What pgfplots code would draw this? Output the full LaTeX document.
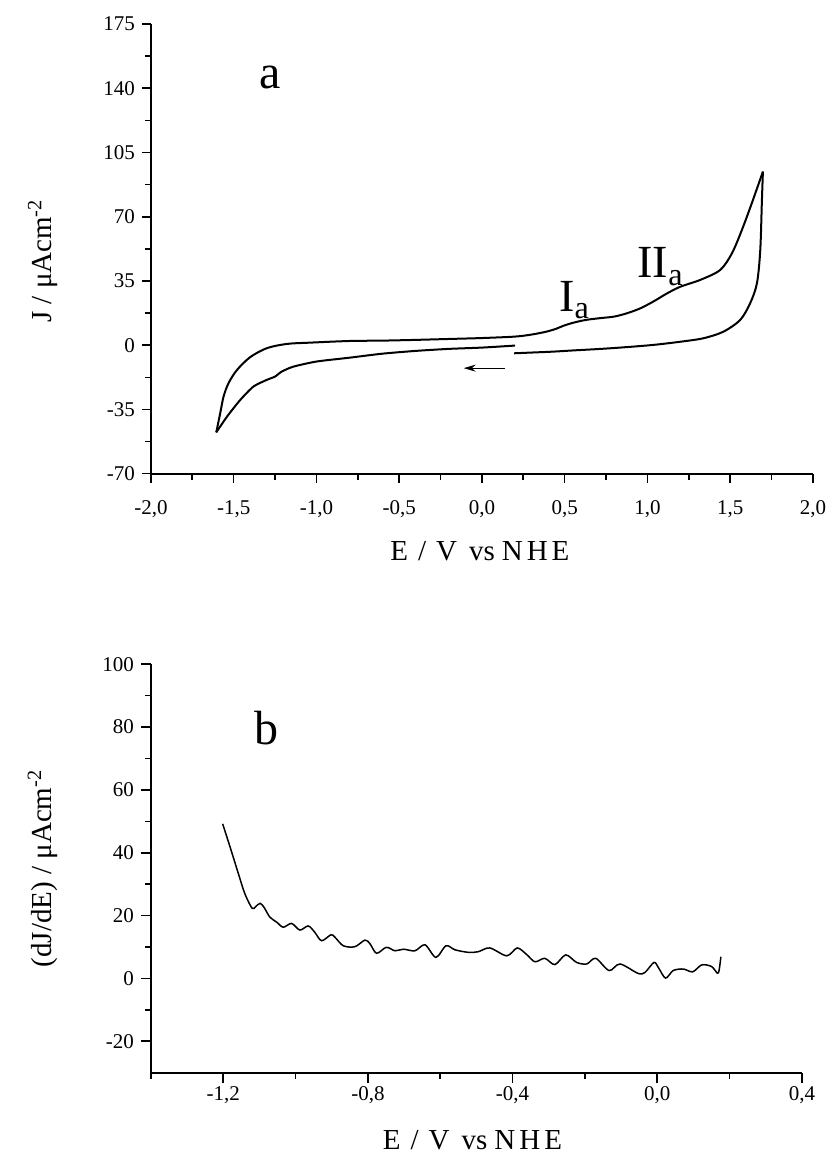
\documentclass[border=0pt]{standalone}
\usepackage{fontspec}
\setmainfont{Liberation Serif}
\usepackage{pgfplots}
\pgfplotsset{compat=1.18}
\usetikzlibrary{arrows.meta}

\newcommand{\exlabel}{E\hspace{5pt}/\hspace{5pt}V\hspace{6pt}vs\hspace{3.5pt}N\hspace{2pt}H\hspace{2pt}E}

\pgfplotsset{
  cvstyle/.style={
    scale only axis,
    axis lines=left,
    axis line style={-, line width=0.85pt},
    tick align=outside,
    tick style={line width=0.8pt, black},
    major tick length=5pt, minor tick length=3pt,
    minor x tick num=1, minor y tick num=1,
    clip=false,
    tick label style={font=\fontsize{10.5}{12}\selectfont},
    /pgf/number format/assume math mode=true,
    every axis y label/.style={rotate=90, anchor=base, font=\fontsize{14.5}{16}\selectfont},
    every axis x label/.style={anchor=base, font=\fontsize{14.5}{16}\selectfont},
  },
}

\begin{document}
\begin{tikzpicture}
% panel a: cyclic voltammogram
\begin{axis}[cvstyle,
    at={(0pt,299.5pt)}, anchor=south west,
    width=331pt, height=224.85pt,
    xmin=-2, xmax=2, ymin=-70, ymax=175,
    xtick={-2,-1.5,...,2}, ytick={-70,-35,...,175},
    xticklabel style={yshift=-5.5pt, /pgf/number format/.cd, use comma, fixed, fixed zerofill, precision=1},
    major tick length=4.5pt, minor tick length=3pt,
    xlabel={\exlabel},
    ylabel={J / μAcm\textsuperscript{-2}},
    xlabel style={at={(axis description cs:0.497,-0.192)}},
    ylabel style={at={(axis description cs:-0.1495,0.473)}},
]
\addplot[black, line width=1pt, smooth, tension=0.4] coordinates {
  (0.2,-0.2) (0.0,-1.3) (-0.2,-2.0) (-0.4,-3.1) (-0.6,-4.6) (-0.8,-6.8)
  (-1.0,-8.9) (-1.14,-11.7) (-1.21,-14.4) (-1.25,-17.1) (-1.30,-18.9)
  (-1.38,-22.5) (-1.46,-29.8) (-1.54,-38.9) (-1.605,-47.5)
};
\addplot[black, line width=1pt, smooth, tension=0.5] coordinates {
  (-1.605,-47.5) (-1.581,-37.0) (-1.561,-28.0) (-1.531,-20.7) (-1.480,-13.5)
  (-1.400,-6.5) (-1.299,-1.6) (-1.178,0.7) (-1.037,1.4) (-0.80,2.3)
  (-0.6,2.5) (-0.4,2.9) (-0.2,3.4)
  (0.0,3.9) (0.2,4.7) (0.3,5.8) (0.39,7.4) (0.45,9.0) (0.49,10.5)
  (0.55,12.2) (0.63,13.8) (0.72,14.8) (0.80,15.6) (0.88,17.5) (0.96,20.2)
  (1.04,24.0) (1.12,28.3) (1.20,31.9) (1.32,35.6) (1.44,41.0) (1.511,50.1)
  (1.571,62.8) (1.631,77.4) (1.698,94.6)
};
\addplot[black, line width=1pt, smooth, tension=0.5] coordinates {
  (1.698,94.6) (1.692,79.2) (1.682,51.9) (1.662,33.8) (1.621,22.9)
  (1.561,13.8) (1.460,7.4) (1.339,3.8) (1.20,1.9) (1.04,0.2) (0.88,-1.0)
  (0.72,-2.0) (0.56,-2.8) (0.43,-3.5) (0.30,-4.0) (0.195,-4.4)
};
\draw[-{Stealth[length=6pt,width=3.5pt]}, line width=0.6pt]
  (axis cs:0.14,-12.5) -- (axis cs:-0.11,-12.5);
\node[font=\fontsize{24}{26}\selectfont] at (axis cs:-1.28,146) {a};
\node[font=\fontsize{23}{26}\selectfont] at (axis cs:0.56,24.7) {I\textsubscript{a}};
\node[font=\fontsize{23}{26}\selectfont] at (axis cs:1.08,42.8) {II\textsubscript{a}};
\end{axis}

% panel b: derivative
\begin{axis}[cvstyle,
    at={(0pt,0pt)}, anchor=south west,
    width=325.5pt, height=204.25pt,
    xmin=-1.4, xmax=0.4, ymin=-30, ymax=100,
    xtick={-1.2,-0.8,-0.4,0,0.4}, ytick={-20,0,...,100},
    minor xtick={-1.4,-1.0,-0.6,-0.2,0.2},
    minor x tick num=0,
    xticklabel style={yshift=1.5pt, /pgf/number format/.cd, use comma, fixed, fixed zerofill, precision=1},
    xlabel={\exlabel},
    ylabel={(dJ/dE) / μAcm\textsuperscript{-2}},
    xlabel style={at={(axis description cs:0.494,-0.189)}},
    ylabel style={at={(axis description cs:-0.1524,0.5)}},
]
\addplot[black, line width=0.75pt, smooth, tension=0.5] coordinates {
  (-1.2016,49.2) (-1.181,41.8) (-1.158,33.3) (-1.140,26.9) (-1.120,22.3)
  (-1.110,22.9) (-1.098,23.9) (-1.087,22.6) (-1.071,19.5) (-1.052,17.9)
  (-1.034,16.3) (-1.011,17.5) (-0.988,15.4) (-0.965,16.7) (-0.947,14.7)
  (-0.928,12.0) (-0.902,13.9) (-0.891,13.1) (-0.868,10.4) (-0.836,10.1)
  (-0.808,12.2) (-0.794,11.0) (-0.776,8.0) (-0.749,9.9) (-0.725,8.8)
  (-0.702,9.3) (-0.670,8.8) (-0.642,10.7) (-0.612,6.7) (-0.584,10.4)
  (-0.559,9.1) (-0.522,8.3) (-0.495,8.5) (-0.463,9.7) (-0.416,7.2)
  (-0.387,9.7) (-0.361,7.6) (-0.338,5.3) (-0.311,6.4) (-0.283,4.4)
  (-0.253,7.5) (-0.223,5.1) (-0.195,4.6) (-0.170,6.4) (-0.133,2.5)
  (-0.103,4.6) (-0.053,1.6) (-0.034,1.9) (-0.009,5.1) (0.003,3.5)
  (0.023,0.1) (0.044,2.5) (0.072,3.0) (0.098,2.1) (0.123,4.3)
  (0.150,3.8) (0.166,1.7) (0.171,2.5) (0.176,6.9)
};
\node[font=\fontsize{24}{26}\selectfont, anchor=base] at (axis cs:-1.08,74.5) {b};
\end{axis}

\pgfresetboundingbox
\path[use as bounding box] (-75.45pt,-42.15pt) rectangle (340.55pt,536.35pt);
\end{tikzpicture}
\end{document}
